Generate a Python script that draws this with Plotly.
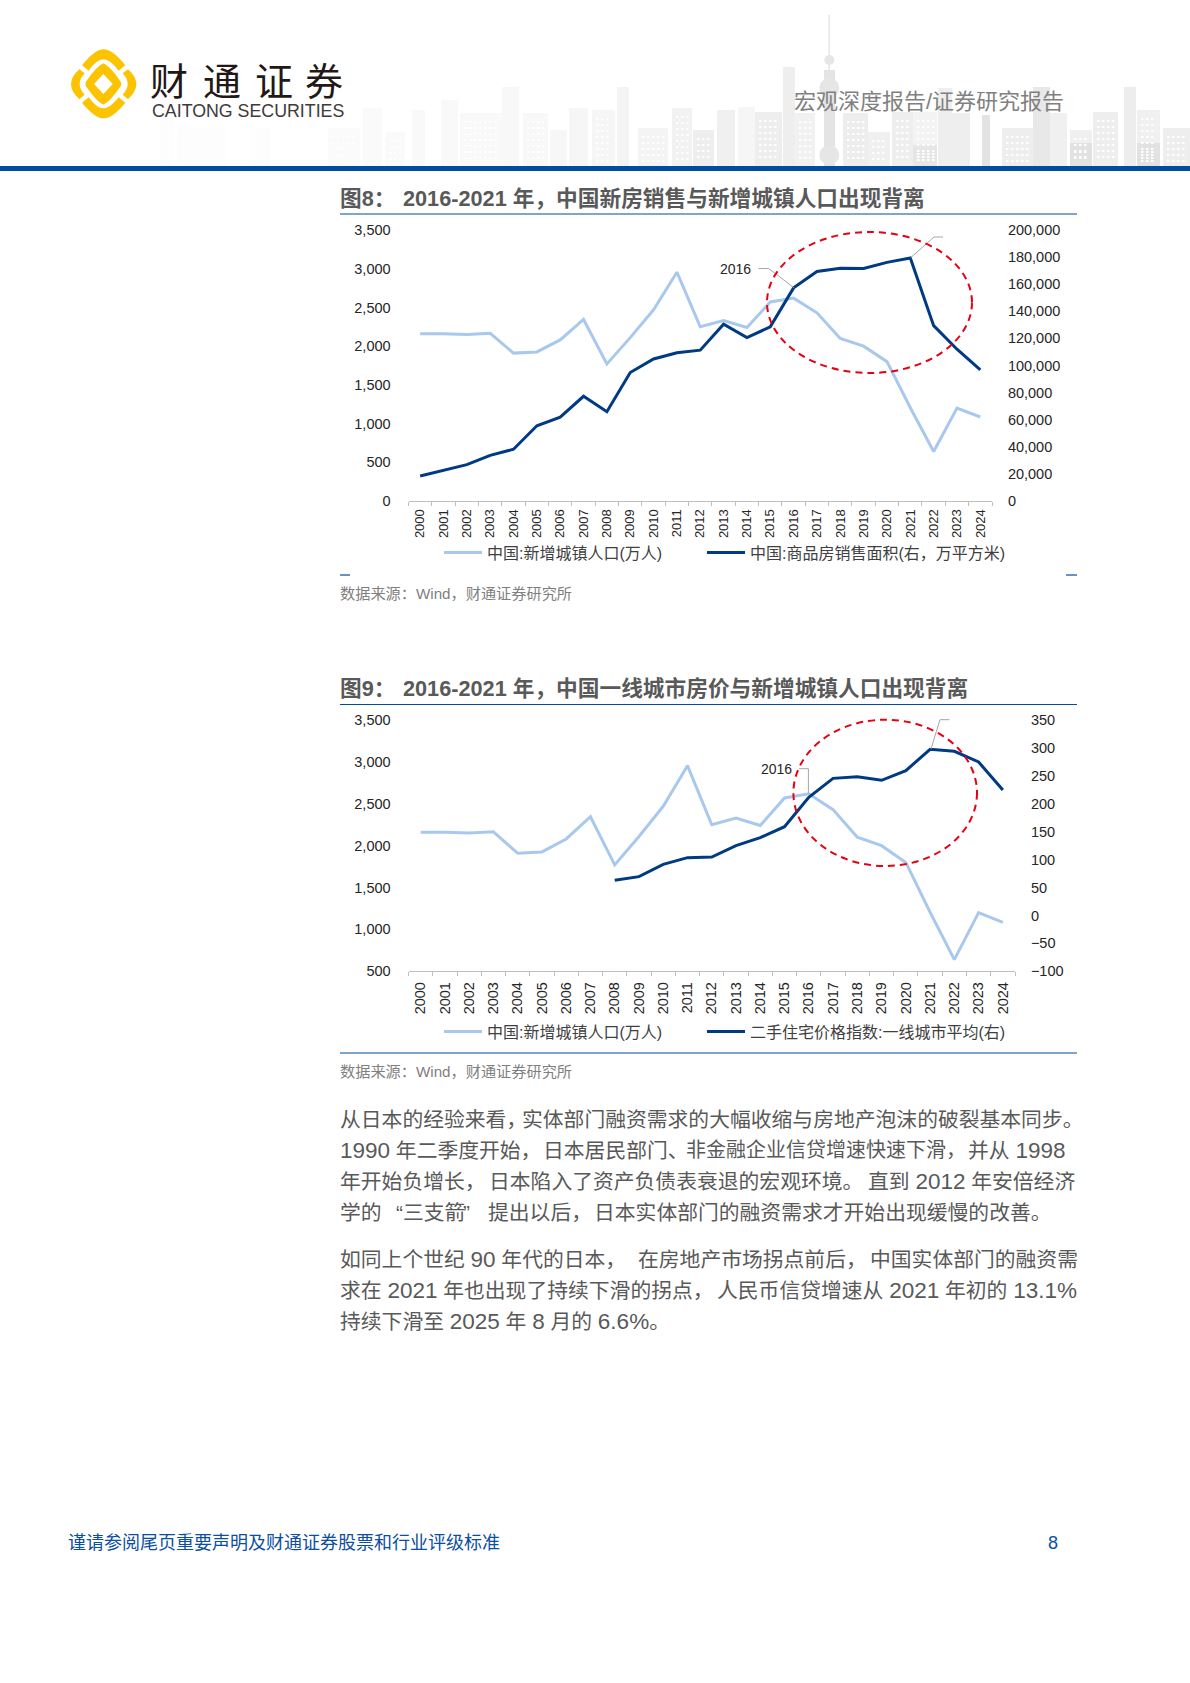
import re

import plotly.graph_objects as go

W, H = 1190, 1683

# 数据
years = [str(y) for y in range(2000, 2025)]
new_urban_pop = [2160, 2160, 2150, 2165, 1910, 1925, 2080, 2345, 1770, 2110, 2470, 2955, 2250,
                 2330, 2240, 2570, 2620, 2430, 2100, 2000, 1800, 1205, 640, 1200, 1085]
sales_area = [18500, 22400, 26800, 33700, 38200, 55500, 61900, 77300, 65900, 94800, 104800, 109400,
              111300, 130500, 120600, 128500, 157300, 169400, 171700, 171600, 176100, 179400,
              129400, 112000, 96700]
tier1_index = [None] * 8 + [63, 69.5, 91.6, 103.5, 104.7, 125, 139.3, 159, 211.5, 245.5, 248.5,
                            242, 259.3, 297.5, 294, 274.8, 224.7]

title_8 = "2016-2021 年，中国新房销售与新增城镇人口出现背离"
title_9 = "2016-2021 年，中国一线城市房价与新增城镇人口出现背离"
source = "数据来源：Wind，财通证券研究所"
name_pop = "中国:新增城镇人口(万人)"
name_area = "中国:商品房销售面积(右，万平方米)"
name_index = "二手住宅价格指数:一线城市平均(右)"

body_lines = [
    (1119, [(340, "从日本的经验来看，", 20.8), (522, "实体部门融资需求的大幅收缩与房地产泡沫的破裂基本同步。", 20.8)]),
    (1150, [(340, "1990 年二季度开始，", 20.8), (543, "日本居民部门、", 20.8), (686, "非金融企业信贷增速快速下滑，", 20),
            (968, "并从 1998", 20.8)]),
    (1181, [(340, "年开始负增长，", 20.8), (489, "日本陷入了资产负债表衰退的宏观环境。", 20.8), (868, "直到 2012 年安倍经济", 20.8)]),
    (1212, [(340, "学的", 20.8), (396, "“", 20.8), (402.7, "三支箭", 20.8), (463, "”", 20.8), (487.5, "提出以后，", 20.8),
            (594, "日本实体部门的融资需求才开始出现缓慢的改善。", 20.8)]),
    (1259, [(340, "如同上个世纪 90 年代的日本，", 20.8), (638, "在房地产市场拐点前后，", 20.8), (870, "中国实体部门的融资需", 20.8)]),
    (1290, [(340, "求在 2021 年也出现了持续下滑的拐点，", 20.8), (717, "人民币信贷增速从 2021 年初的 13.1%", 20.8)]),
    (1321, [(340, "持续下滑至 2025 年 8 月的 6.6%。", 20.8)]),
]

# 页眉背景的楼群 (x0, top, x1, 颜色)
buildings = [
    (160, 93, 173, "#fdfdfd"), (177, 128, 226, "#fdfdfd"), (251, 128, 270, "#fdfdfd"),
    (328, 128, 360, "#fbfbfb"), (363, 108, 382, "#fafafa"), (385, 132, 405, "#fafafa"),
    (412, 110, 425, "#f9f9f9"), (441, 100, 458, "#f9f9f9"), (460, 113, 502, "#f9f9f9"),
    (502, 87, 519, "#f8f8f8"), (523, 113, 548, "#f8f8f8"), (550, 130, 567, "#f7f7f7"),
    (569, 108, 588, "#f6f6f6"), (592, 110, 615, "#f6f6f6"), (617, 87, 629, "#f4f4f4"),
    (638, 128, 668, "#f4f4f4"), (672, 108, 692, "#f2f2f2"), (693, 130, 714, "#eeeeee"),
    (717, 110, 735, "#f0f0f0"), (738, 107, 755, "#f6f6f6"), (755, 112, 782, "#eeeeee"),
    (783, 67, 795, "#eeeeee"), (795, 113, 815, "#f1f1f1"), (843, 113, 868, "#ededed"),
    (868, 132, 890, "#f0f0f0"), (892, 112, 913, "#eeeeee"), (913, 112, 937, "#f3f3f3"),
    (913, 145, 937, "#e6e6e6"), (938, 88, 952, "#eeeeee"), (952, 113, 970, "#eeeeee"),
    (982, 115, 990, "#e3e3e3"), (1002, 128, 1033, "#eeeeee"), (1033, 87, 1050, "#e8e8e8"),
    (1050, 113, 1067, "#f0f0f0"), (1070, 130, 1092, "#f0f0f0"), (1070, 143, 1092, "#e2e2e2"),
    (1093, 112, 1118, "#eeeeee"), (1124, 87, 1136, "#ededed"), (1137, 110, 1160, "#f0f0f0"),
    (1137, 143, 1160, "#e2e2e2"), (1163, 128, 1190, "#eeeeee"),
]


def px(x):
    return x / W


def py(y):
    return 1 - y / H


def pt(x, y):
    return f"{px(x)},{py(y)}"


def logo_xy(zx, zy):
    return pt(60 + zx / 3, 40 + zy / 3)


def text(x, y, s, size, color, anchor="left", family="Liberation Sans, Noto Sans CJK SC"):
    return dict(x=px(x), y=py(y), xref="paper", yref="paper", text=s, showarrow=False, xanchor=anchor,
                yanchor="middle", borderpad=0, borderwidth=0, font=dict(size=size, color=color, family=family))


def line_shape(points, color="#a6a6a6", width=1):
    d = "M " + " L ".join(pt(x, y) for x, y in points)
    return dict(type="path", path=d, xref="paper", yref="paper", line=dict(color=color, width=width))


def fill_shape(d, color, layer="above"):
    return dict(type="path", path=d, xref="paper", yref="paper", fillcolor=color, layer=layer, line=dict(width=0))


def rect(x0, y0, x1, y1, color, layer="above"):
    return dict(type="rect", xref="paper", yref="paper", x0=px(x0), x1=px(x1), y0=py(y1), y1=py(y0),
                fillcolor=color, layer=layer, line=dict(width=0))


def ellipse(x0, y0, x1, y1):
    return dict(type="circle", xref="paper", yref="paper", x0=px(x0), x1=px(x1), y0=py(y1), y1=py(y0),
                line=dict(color="#e60012", width=2, dash="7px,5px"))


fig = go.Figure()

light, dark = "#a9c8ee", "#003a82"
fig.add_trace(go.Scatter(x=years, y=new_urban_pop, name=name_pop, mode="lines", xaxis="x", yaxis="y",
                         line=dict(color=light, width=3), legend="legend"))
fig.add_trace(go.Scatter(x=years, y=sales_area, name=name_area, mode="lines", xaxis="x", yaxis="y2",
                         line=dict(color=dark, width=3), legend="legend2"))
fig.add_trace(go.Scatter(x=years, y=new_urban_pop, name=name_pop, mode="lines", xaxis="x2", yaxis="y3",
                         line=dict(color=light, width=3), legend="legend3"))
fig.add_trace(go.Scatter(x=years, y=tier1_index, name=name_index, mode="lines", xaxis="x2", yaxis="y4",
                         line=dict(color=dark, width=3), legend="legend4"))

font_num = dict(size=14.5, color="#262626", family="Liberation Sans")


def x_axis(left, right, anchor, size, standoff):
    return dict(type="category", domain=[px(left), px(right)], anchor=anchor, tickson="boundaries", dtick=1,
                range=[-0.5, 24.5], tickangle=-90, ticks="outside", ticklen=4, tickcolor="#bfbfbf", showline=True,
                linecolor="#bfbfbf", showgrid=False, zeroline=False, ticklabelstandoff=standoff,
                tickfont=dict(size=size, color="#262626", family="Liberation Sans"))


def y_axis(top, bottom, rng, dtick, side, anchor, ticklen, overlay=None):
    ax = dict(domain=[py(bottom), py(top)], range=rng, dtick=dtick, side=side, anchor=anchor, tickformat=",",
              showgrid=False, zeroline=False, showline=False, ticks="outside", ticklen=ticklen,
              tickcolor="rgba(0,0,0,0)", tickfont=font_num)
    if overlay:
        ax["overlaying"] = overlay
    return ax


legend_common = dict(orientation="h", xanchor="left", yanchor="middle", xref="paper", yref="paper",
                     bgcolor="rgba(0,0,0,0)", itemwidth=38,
                     font=dict(size=16, color="#404040", family="Liberation Sans, Noto Sans CJK SC"),
                     itemclick=False, itemdoubleclick=False)

shapes = []
# 楼群
for x0, top, x1, color in buildings:
    shapes.append(rect(x0, top, x1, 166, color, layer="below"))
# 东方明珠
shapes.append(rect(828.5, 15, 830, 70, "#e6e6e6", layer="below"))
shapes.append(rect(824, 70, 835, 166, "#e4e4e4", layer="below"))
for cy, r in [(60, 5), (88, 10), (155, 10)]:
    shapes.append(dict(type="circle", xref="paper", yref="paper", x0=px(829.3 - r), x1=px(829.3 + r),
                       y0=py(cy + r), y1=py(cy - r), fillcolor="#e6e6e6", layer="below", line=dict(width=0)))
# 窗户
for x0, top, x1, color in buildings:
    if x1 - x0 < 20:
        continue
    d = ""
    yy = top + 8
    while yy < 162:
        xx = x0 + 4
        while xx < x1 - 4:
            d += f"M {pt(xx, yy)} L {pt(xx + 2.5, yy)} L {pt(xx + 2.5, yy + 2)} L {pt(xx, yy + 2)} Z "
            xx += 5
        yy += 6
    shapes.append(fill_shape(d, "#fefefe", layer="below"))

# 页眉蓝条
shapes.append(rect(0, 166, W, 171, "#004c9e"))

# 标志
gold = "#fcc400"
shapes.append(fill_shape(
    f"M {logo_xy(66, 76)} Q {logo_xy(105, 28)} {logo_xy(130, 28)} Q {logo_xy(158, 28)} {logo_xy(196, 76)} "
    f"L {logo_xy(176, 92)} Q {logo_xy(150, 58)} {logo_xy(130, 58)} Q {logo_xy(110, 58)} {logo_xy(86, 92)} Z", gold))
shapes.append(fill_shape(
    f"M {logo_xy(66, 188)} Q {logo_xy(105, 235)} {logo_xy(130, 235)} Q {logo_xy(158, 235)} {logo_xy(196, 188)} "
    f"L {logo_xy(176, 172)} Q {logo_xy(150, 205)} {logo_xy(130, 205)} Q {logo_xy(110, 205)} {logo_xy(86, 172)} Z", gold))
shapes.append(fill_shape(
    f"M {logo_xy(58, 88)} Q {logo_xy(8, 132)} {logo_xy(58, 178)} L {logo_xy(74, 164)} "
    f"Q {logo_xy(44, 132)} {logo_xy(74, 100)} Z", gold))
shapes.append(fill_shape(
    f"M {logo_xy(204, 88)} Q {logo_xy(254, 132)} {logo_xy(204, 178)} L {logo_xy(188, 164)} "
    f"Q {logo_xy(218, 132)} {logo_xy(188, 100)} Z", gold))
shapes.append(fill_shape(
    f"M {logo_xy(130, 70)} Q {logo_xy(150, 78)} {logo_xy(182, 125)} Q {logo_xy(186, 132)} {logo_xy(182, 139)} "
    f"Q {logo_xy(150, 186)} {logo_xy(130, 194)} Q {logo_xy(110, 186)} {logo_xy(78, 139)} "
    f"Q {logo_xy(74, 132)} {logo_xy(78, 125)} Q {logo_xy(110, 78)} {logo_xy(130, 70)} Z", gold))
shapes.append(fill_shape(
    f"M {logo_xy(130, 102)} L {logo_xy(158, 132)} L {logo_xy(130, 162)} L {logo_xy(102, 132)} Z", "#ffffff"))

# 图表框线
shapes += [
    line_shape([(340, 214), (1077, 214)], "#004c9e", 1.2),
    line_shape([(340, 575), (350, 575)], "#004c9e", 1.2),
    line_shape([(1066, 575), (1077, 575)], "#004c9e", 1.2),
    line_shape([(340, 704.5), (1077, 704.5)], "#004c9e", 1.2),
    line_shape([(340, 1053), (1077, 1053)], "#004c9e", 1.2),
    # 引线
    line_shape([(758.5, 268.5), (768.7, 268.5), (793.9, 287.7)]),
    line_shape([(910.7, 257.7), (934, 237), (943, 237)]),
    line_shape([(799, 768.7), (808.4, 768.7), (808.4, 793.3)]),
    line_shape([(931, 749), (940, 719.7), (949.5, 719.7)]),
    ellipse(767, 232, 972, 373),
    ellipse(793.4, 719.7, 977, 866),
]

annotations = [
    text(169, 78, "财", 38, "#231815", "center", "Noto Sans CJK SC"),
    text(221.5, 78, "通", 38, "#231815", "center", "Noto Sans CJK SC"),
    text(274, 78, "证", 38, "#231815", "center", "Noto Sans CJK SC"),
    text(324, 78, "券", 38, "#231815", "center", "Noto Sans CJK SC"),
    text(151.7, 111, "CAITONG SECURITIES", 17.8, "#3e3a39"),
    text(794, 102, "宏观深度报告/证券研究报告", 22, "#808080"),
    text(340, 198, "<b>图8：</b>", 21.7, "#595959"),
    text(402.7, 198, "<b>" + title_8 + "</b>", 21.7, "#595959"),
    text(340, 688, "<b>图9：</b>", 21.7, "#595959"),
    text(402.7, 688, "<b>" + title_9 + "</b>", 21.7, "#595959"),
    text(340, 593, source, 15.2, "#7f7f7f"),
    text(340, 1071, source, 15.2, "#7f7f7f"),
    text(735, 269, "2016", 14, "#262626", "center"),
    text(776, 769, "2016", 14, "#262626", "center"),
    text(68, 1542.5, "谨请参阅尾页重要声明及财通证券股票和行业评级标准", 18, "#0b4ea2"),
    text(1053, 1542.5, "8", 18, "#0b4ea2", "center"),
]
# 正文里的数字比汉字略大
for y, chunks in body_lines:
    for x, s, size in chunks:
        s = re.sub(r"([0-9.%]+)", r'<span style="font-size:22.5px">\1</span>', s)
        annotations.append(text(x, y, s, size, "#595959"))

fig.update_layout(
    width=W, height=H, margin=dict(l=0, r=0, t=0, b=0, autoexpand=False),
    paper_bgcolor="#ffffff", plot_bgcolor="rgba(0,0,0,0)",
    showlegend=True, hovermode=False,
    xaxis=x_axis(408.5, 992, "y", 13, 2),
    yaxis=y_axis(230, 501, [0, 3500], 500, "left", "x", 14),
    yaxis2=y_axis(230, 501, [0, 200000], 20000, "right", "x", 12, overlay="y"),
    xaxis2=x_axis(408.5, 1015, "y3", 14.5, 4),
    yaxis3=y_axis(720, 971.3, [500, 3500], 500, "left", "x2", 14),
    yaxis4=y_axis(720, 971.3, [-100, 350], 50, "right", "x2", 12, overlay="y3"),
    legend=dict(x=px(439), y=py(552.7), **legend_common),
    legend2=dict(x=px(702), y=py(552.7), **legend_common),
    legend3=dict(x=px(439), y=py(1031.7), **legend_common),
    legend4=dict(x=px(702), y=py(1031.7), **legend_common),
    shapes=shapes, annotations=annotations,
)

# 去掉页面默认边距
fix_page = "document.body.style.setProperty('margin','0','important');"
fig.write_html("out.html", post_script=fix_page, config=dict(displayModeBar=False))
